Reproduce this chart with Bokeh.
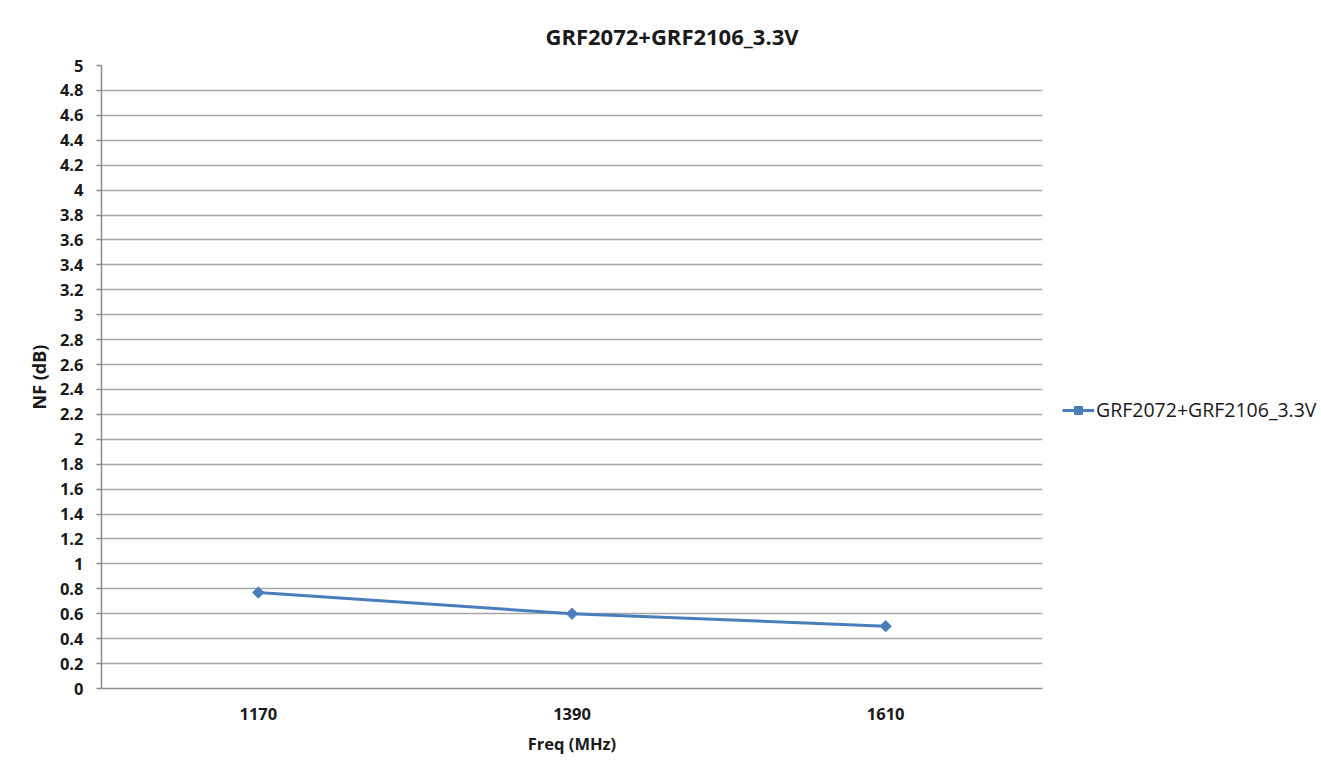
import math
from bokeh.plotting import figure
from bokeh.models import FactorRange, Range1d, Legend, LegendItem, FixedTicker
from bokeh.embed import file_html
from bokeh.resources import INLINE

# Data
freqs = ["1170", "1390", "1610"]
nf_db = [0.77, 0.60, 0.50]
series_name = "GRF2072+GRF2106_3.3V"
chart_title = "GRF2072+GRF2106_3.3V"
y_ticks = [round(i * 0.2, 1) for i in range(26)]
FONT = "Open Sans"
BLUE = "#4A7EBB"
GRID = "#A6A6A6"

p = figure(
    x_range=FactorRange(*freqs, range_padding=0),
    y_range=Range1d(0, 5),
    frame_width=941, frame_height=623,
    min_border_left=101, min_border_right=212, min_border_top=65, min_border_bottom=71,
    output_backend="svg", toolbar_location=None,
    background_fill_color="white", border_fill_color="white",
    title=chart_title,
)
p.outline_line_color = None

p.title.align = "left"
p.title.offset = 444
p.title.text_font = FONT
p.title.text_font_size = "22px"
p.title.text_font_style = "bold"
p.title.text_color = "#1a1a1a"
p.title.standoff = 30

# axes
p.yaxis.ticker = FixedTicker(ticks=y_ticks)
p.yaxis.major_label_overrides = {v: (str(int(v)) if abs(v - round(v)) < 1e-9 else f"{v:g}") for v in y_ticks}
p.yaxis.axis_label = "NF (dB)"
p.xaxis.axis_label = "Freq (MHz)"
for ax in (p.xaxis[0], p.yaxis[0]):
    ax.major_label_text_font = FONT
    ax.major_label_text_font_size = "16.5px"
    ax.major_label_text_font_style = "bold"
    ax.major_label_text_color = "#1a1a1a"
    ax.axis_label_text_font = FONT
    ax.axis_label_text_font_style = "bold"
    ax.axis_label_text_color = "#1a1a1a"
    ax.axis_line_color = "#8C8C8C"
    ax.axis_line_width = 1.5
    ax.minor_tick_line_color = None
p.xaxis.axis_label_text_font_size = "16.5px"
p.yaxis.axis_label_text_font_size = "18px"

p.yaxis.major_tick_line_color = "#8C8C8C"
p.yaxis.major_tick_line_width = 1.5
p.yaxis.major_tick_out = 5
p.yaxis.major_tick_in = 0
p.yaxis.major_label_standoff = 13
p.yaxis.axis_label_standoff = 6

p.xaxis.major_tick_line_color = None
p.xaxis.major_label_standoff = 13
p.xaxis.axis_label_standoff = 9

p.xgrid.grid_line_color = None
p.ygrid.grid_line_color = GRID
p.ygrid.grid_line_width = 1.5
p.ygrid.ticker = FixedTicker(ticks=y_ticks)

ln = p.line(freqs, nf_db, line_color=BLUE, line_width=3)
mk = p.scatter(freqs, nf_db, marker="square", angle=math.pi / 4, size=8,
               fill_color=BLUE, line_color=BLUE)

legend = Legend(items=[LegendItem(label=series_name, renderers=[ln, mk])],
                location=(20, 265), padding=0, margin=0, spacing=0,
                glyph_width=32, glyph_height=20, label_standoff=2,
                label_text_font=FONT, label_text_font_size="19.5px",
                label_text_color="#1a1a1a",
                border_line_color=None, background_fill_alpha=0)
p.add_layout(legend, "right")

open("out.html", "w").write(file_html(p, INLINE))
